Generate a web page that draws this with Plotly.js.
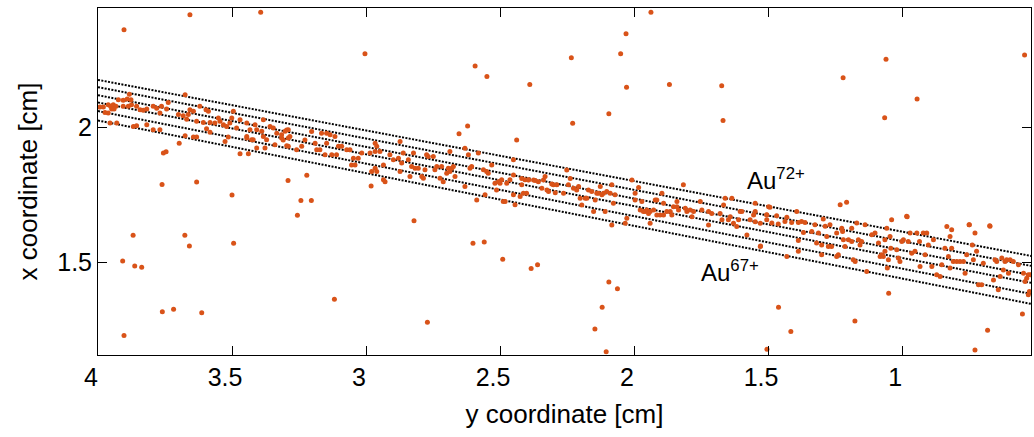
<!DOCTYPE html>
<html>
<head>
<meta charset="utf-8">
<script src="https://cdn.plot.ly/plotly-3.0.1.min.js"></script>
<style>html,body{margin:0;padding:0;background:#fff;}#chart{width:1034px;height:437px;}</style>
</head>
<body>
<div id="chart"></div>
<script>
// Hits along the ion tracks: [y coordinate (horizontal axis), x coordinate (vertical axis)] in cm
const trackHits = [
[3.993,2.076],[3.980,2.076],[3.962,2.085],[3.953,2.079],[3.943,2.085],[3.933,2.079],[3.949,2.069],[3.974,2.056],[3.962,2.054],[3.940,2.069],
[3.924,2.103],[3.906,2.101],[3.891,2.106],[3.883,2.124],[3.877,2.103],[3.906,2.079],[3.887,2.079],[3.875,2.085],[3.856,2.079],[3.843,2.066],
[3.831,2.064],[3.818,2.069],[3.794,2.079],[3.781,2.072],[3.763,2.079],[3.738,2.093],[3.769,2.054],[3.744,2.069],[3.675,2.122],[3.700,2.048],
[3.682,2.044],[3.657,2.066],[3.644,2.060],[3.669,2.031],[3.663,2.048],[3.620,2.079],[3.597,2.066],[3.588,2.060],[3.632,2.023],[3.607,2.019],
[3.582,2.019],[3.564,2.017],[3.551,2.035],[3.545,2.023],[3.532,2.010],[3.520,2.004],[3.508,2.017],[3.495,2.060],[3.501,2.035],[3.483,1.998],
[3.470,2.029],[3.445,2.017],[3.433,1.992],[3.445,1.961],[3.421,1.955],[3.414,2.010],[3.408,1.992],[3.383,2.029],[3.389,1.986],[3.371,1.955],
[3.358,2.004],[3.346,1.998],[3.333,1.979],[3.315,1.961],[3.302,1.986],[3.290,1.992],[3.296,1.932],[3.290,1.961],[3.408,1.924],[3.377,1.924],
[3.340,1.936],[3.955,2.017],[3.930,2.017],[3.868,2.004],[3.856,2.007],[3.818,2.010],[3.794,1.992],[3.769,1.992],[3.756,1.905],[3.746,1.910],
[3.697,1.942],[3.675,1.969],[3.644,1.965],[3.632,1.965],[3.595,1.995],[3.582,1.982],[3.526,1.948],[3.514,1.965],[3.470,1.903],[3.439,1.903],
[3.445,1.967],[3.427,1.955],[3.383,1.967],
[3.315,1.973],[3.296,1.991],[3.284,1.967],[3.309,1.954],[3.290,1.930],[3.259,1.917],[3.240,1.930],[3.228,1.954],[3.203,1.985],[3.184,1.917],
[3.190,1.942],[3.172,1.917],[3.166,1.979],[3.147,1.979],[3.134,1.973],[3.116,1.967],[3.103,1.930],[3.091,1.930],[3.110,1.899],[3.147,1.942],
[3.153,1.899],[3.128,1.899],[3.072,1.917],[3.060,1.917],[3.047,1.886],[3.054,1.861],[3.041,1.861],[3.029,1.886],[3.016,1.905],[2.985,1.905],
[2.979,1.837],[2.966,1.942],[2.960,1.930],[2.966,1.911],[2.948,1.911],[2.966,1.849],[2.960,1.837],[2.935,1.861],[2.929,1.799],[2.935,1.806],
[2.911,1.899],[2.898,1.880],[2.879,1.886],[2.873,1.948],[2.873,1.837],[2.867,1.868],[2.861,1.905],[2.842,1.880],[2.836,1.818],[2.830,1.855],
[2.823,1.905],[2.817,1.849],[2.805,1.849],[2.792,1.818],[2.786,1.812],[2.780,1.843],[2.774,1.899],[2.768,1.892],[2.749,1.892],[2.743,1.843],
[2.736,1.855],[2.718,1.855],[2.724,1.812],[2.712,1.799],[2.699,1.830],[2.693,1.849],[2.687,1.837],[2.680,1.849],[2.674,1.855],[2.668,1.818],
[2.687,1.911],[2.631,1.923],[2.618,1.899],[2.612,1.849],[2.606,1.855],[2.631,1.781],[2.581,1.905],[2.562,1.843],[2.550,1.837],[2.544,1.830],
[2.531,1.861],[2.519,1.793],[2.513,1.768],[2.506,1.799],[2.500,1.793],[2.494,1.806],[2.475,1.793],[2.463,1.806],[2.450,1.880],[2.450,1.824],
[2.438,1.954],[2.419,1.787],[2.407,1.806],[2.394,1.806],[2.401,1.756],[2.425,1.744],[2.450,1.750],[2.444,1.713],[2.488,1.725],[2.481,1.725],
[2.556,1.750],[2.587,1.731],
[2.419,1.811],[2.413,1.756],[2.394,1.805],[2.375,1.805],[2.369,1.803],[2.357,1.799],[2.338,1.805],[2.332,1.818],[2.344,1.774],[2.325,1.768],
[2.319,1.762],[2.307,1.790],[2.301,1.787],[2.288,1.787],[2.294,1.758],[2.263,1.756],[2.251,1.842],[2.245,1.787],[2.238,1.811],[2.226,1.774],
[2.214,1.768],[2.207,1.781],[2.201,1.737],[2.195,1.712],[2.182,1.737],[2.176,1.737],[2.170,1.768],[2.158,1.762],[2.151,1.688],[2.145,1.731],
[2.139,1.756],[2.126,1.781],[2.133,1.756],[2.120,1.750],[2.114,1.756],[2.108,1.688],[2.102,1.762],[2.089,1.756],[2.083,1.787],[2.083,1.638],
[2.077,1.719],[2.071,1.750],[2.033,1.644],[2.027,1.663],[2.008,1.805],[1.996,1.756],[1.983,1.777],[1.996,1.731],[1.977,1.694],[1.971,1.725],
[1.965,1.688],[1.959,1.688],[1.952,1.694],[1.946,1.681],[1.940,1.688],[1.940,1.644],[1.927,1.694],[1.921,1.731],[1.915,1.731],[1.915,1.675],
[1.903,1.675],[1.896,1.756],[1.890,1.719],[1.890,1.675],[1.878,1.688],[1.865,1.688],[1.859,1.675],[1.853,1.706],[1.840,1.725],[1.840,1.706],
[1.834,1.694],[1.816,1.787],[1.809,1.700],[1.803,1.688],[1.791,1.694],[1.784,1.669],[1.778,1.688],[1.753,1.725],[1.747,1.694],[1.722,1.688],
[1.722,1.638],[1.710,1.681],[1.679,1.681],[1.672,1.657],[1.666,1.712],[1.660,1.737],[1.641,1.669],[1.648,1.657],[1.635,1.737],[1.629,1.644],
[1.617,1.632],[1.610,1.657],[1.604,1.688],[1.598,1.688],[1.579,1.601],[1.567,1.657],[1.554,1.675],[1.548,1.688],[1.548,1.719],[1.548,1.650],
[1.529,1.644],[1.529,1.558],[1.505,1.675],[1.498,1.706],[1.505,1.657],
[1.493,1.704],[1.505,1.676],[1.468,1.672],[1.462,1.642],[1.486,1.645],[1.437,1.651],[1.430,1.667],[1.412,1.647],[1.393,1.688],[1.387,1.647],
[1.375,1.651],[1.362,1.647],[1.368,1.610],[1.387,1.580],[1.387,1.540],[1.430,1.521],[1.337,1.614],[1.325,1.639],[1.319,1.571],[1.312,1.608],
[1.300,1.527],[1.300,1.564],[1.294,1.660],[1.287,1.633],[1.281,1.595],[1.275,1.558],[1.269,1.639],[1.263,1.558],[1.244,1.608],[1.244,1.521],
[1.238,1.527],[1.231,1.713],[1.225,1.626],[1.222,1.614],[1.219,1.583],[1.213,1.558],[1.207,1.722],[1.200,1.583],[1.188,1.626],[1.188,1.577],
[1.182,1.509],[1.175,1.502],[1.169,1.645],[1.163,1.583],[1.157,1.564],[1.151,1.577],[1.138,1.639],[1.132,1.465],[1.113,1.602],[1.101,1.608],
[1.088,1.571],[1.082,1.521],[1.076,1.527],[1.070,1.521],[1.064,1.540],[1.064,1.583],[1.057,1.626],[1.055,1.478],[1.051,1.509],[1.045,1.595],
[1.039,1.657],[1.042,1.552],[1.020,1.546],[1.014,1.515],[1.008,1.502],[1.001,1.577],[0.995,1.583],[0.983,1.670],[0.977,1.577],[0.970,1.608],
[0.964,1.533],[0.952,1.540],[0.945,1.608],[0.935,1.577],[0.933,1.484],[0.921,1.608],[0.914,1.527],[0.908,1.608],[0.902,1.564],[0.889,1.484],
[0.883,1.583],[0.871,1.453],[0.858,1.447],[0.852,1.490],[0.840,1.552],[0.833,1.632],[0.827,1.521],[0.821,1.595],[0.815,1.620],[0.821,1.478],
[0.815,1.552],[0.809,1.502],[0.796,1.502],[0.784,1.502],[0.771,1.502],[0.765,1.459],[0.759,1.527],[0.749,1.639],[0.738,1.564],[0.734,1.509],
[0.728,1.608],[0.722,1.540],[0.715,1.416],[0.703,1.416],[0.697,1.496],[0.672,1.633],[0.659,1.434],[0.653,1.509],[0.647,1.502],[0.641,1.397],
[0.634,1.447],[0.628,1.515],[0.622,1.471],[0.616,1.502],[0.610,1.509],[0.603,1.459],[0.597,1.509],[0.585,1.502],[0.566,1.490],[0.547,1.459],
[0.541,1.428],[0.535,1.440],[0.529,1.379],[0.525,1.391],[0.529,1.453],[0.522,1.453]
];

// Stray hits away from the tracks
const strayHits = [
[3.903,2.363],[3.657,2.419],[3.393,2.428],[3.004,2.274],[2.593,2.229],[2.549,2.190],[2.389,2.160],[2.234,2.259],[2.229,2.016],[2.094,2.051],
[2.050,2.274],[2.030,2.348],[2.028,2.150],[1.937,2.428],[1.868,2.160],[1.673,2.155],[1.668,2.026],[1.220,2.185],[1.060,2.254],[1.065,2.036],
[0.944,2.106],[0.543,2.269],[2.621,2.006],[2.653,1.977],[3.761,1.788],[3.632,1.798],[3.500,1.749],[3.291,1.803],[3.221,1.823],[3.243,1.729],
[3.204,1.729],[3.256,1.674],[2.821,1.654],[2.981,1.783],[3.869,1.600],[3.676,1.600],[3.659,1.560],[3.494,1.570],[3.908,1.504],[3.863,1.486],
[3.837,1.481],[3.760,1.316],[3.718,1.325],[3.613,1.312],[3.903,1.227],[3.118,1.362],[2.771,1.277],[2.601,1.570],[2.559,1.575],[2.490,1.511],
[2.384,1.476],[2.360,1.490],[2.094,1.426],[2.062,1.401],[2.119,1.332],[2.146,1.252],[2.104,1.167],[1.504,1.176],[1.461,1.332],[1.415,1.242],
[1.176,1.281],[1.050,1.384],[0.728,1.174],[0.681,1.247],[0.551,1.307],[0.981,1.669],[0.750,1.639],[0.673,1.635],[1.528,1.560]
];

// Dotted charge-state trajectories: value at each end of the horizontal range
const trackEndsX = [4.0, 0.519];
const trackStartY = [2.177, 2.150, 2.120, 2.093, 2.061, 2.026];
const trackEndY = [1.523, 1.486, 1.452, 1.423, 1.382, 1.345];

const xTicks = [4, 3.5, 3, 2.5, 2, 1.5, 1];
const xTickText = ['4', '3.5', '3', '2.5', '2', '1.5', '1'];
const yTicks = [1.5, 2];
const yTickText = ['1.5', '2'];

const dotColor = '#D95319';
const traces = [];
trackStartY.forEach((y0, i) => {
  traces.push({
    type: 'scatter', mode: 'lines', x: trackEndsX, y: [y0, trackEndY[i]],
    line: {color: '#000', width: 2, dash: '2px,1.4px'}, hoverinfo: 'skip'
  });
});
const allHits = trackHits.concat(strayHits);
traces.push({
  type: 'scatter', mode: 'markers',
  x: allHits.map(p => p[0]), y: allHits.map(p => p[1]),
  marker: {color: dotColor, size: 5, line: {width: 0}}
});

const font = "'Liberation Sans', Arial, sans-serif";
const axisCommon = {
  showline: true, linecolor: '#000', linewidth: 1, mirror: 'ticks',
  ticks: 'inside', ticklen: 9, tickcolor: '#000', tickwidth: 1,
  showgrid: false, zeroline: false, autorange: false,
  tickfont: {family: font, size: 25, color: '#000'}
};

const layout = {
  width: 1034, height: 437,
  margin: {l: 98, r: 3, t: 8, b: 82},
  paper_bgcolor: '#fff', plot_bgcolor: '#fff',
  showlegend: false,
  xaxis: Object.assign({}, axisCommon, {
    range: [4, 0.519], tickmode: 'array', tickvals: xTicks, ticktext: xTickText,
    ticklabelshift: 7,
    title: {text: 'y coordinate [cm]', font: {family: font, size: 26, color: '#000'}, standoff: 14}
  }),
  yaxis: Object.assign({}, axisCommon, {
    range: [1.155, 2.444], tickmode: 'array', tickvals: yTicks, ticktext: yTickText,
    title: {text: 'x coordinate [cm]', font: {family: font, size: 26, color: '#000'}, standoff: 12}
  }),
  annotations: [
    {text: 'Au<sup>72+</sup>', x: 1.586, y: 1.809, xref: 'x', yref: 'y', xanchor: 'left', yanchor: 'middle',
     showarrow: false, font: {family: font, size: 24, color: '#000'}},
    {text: 'Au<sup>67+</sup>', x: 1.758, y: 1.467, xref: 'x', yref: 'y', xanchor: 'left', yanchor: 'middle',
     showarrow: false, font: {family: font, size: 24, color: '#000'}}
  ]
};

Plotly.newPlot('chart', traces, layout, {staticPlot: true, displayModeBar: false});
</script>
</body>
</html>
